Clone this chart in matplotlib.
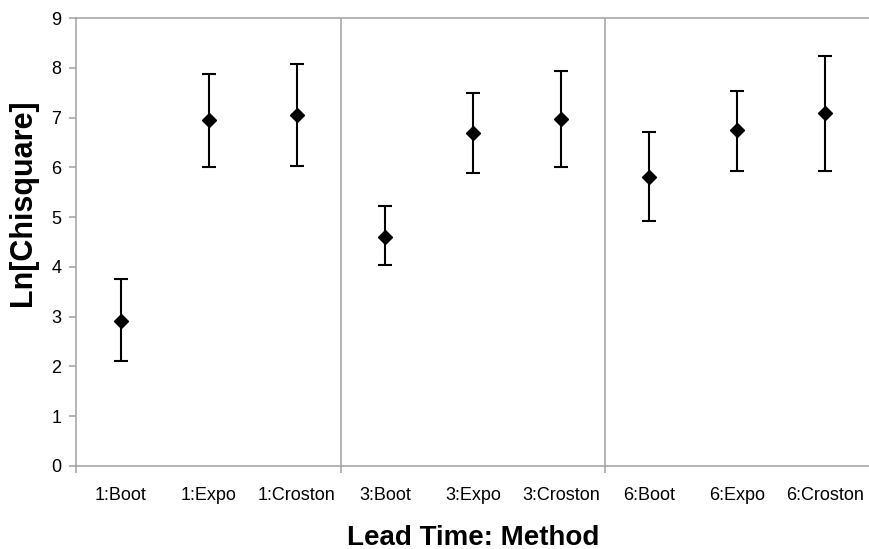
import matplotlib
matplotlib.use("Agg")
import matplotlib.pyplot as plt
import numpy as np

# Ln[Chisquare] by lead time and method, with error bars
methods = ["1:Boot", "1:Expo", "1:Croston",
           "3:Boot", "3:Expo", "3:Croston",
           "6:Boot", "6:Expo", "6:Croston"]
means = [2.92, 6.95, 7.05, 4.61, 6.68, 6.98, 5.80, 6.75, 7.09]
upper = [3.76, 7.87, 8.08, 5.22, 7.49, 7.93, 6.70, 7.54, 8.24]
lower = [2.10, 6.00, 6.03, 4.03, 5.89, 6.01, 4.92, 5.93, 5.93]
group_breaks = [2.5, 5.5]

plt.rcParams['font.family'] = ['Liberation Sans', 'DejaVu Sans']

fig = plt.figure(figsize=(8.69, 5.49), dpi=100)
ax = fig.add_axes([0.088, 0.1512, 0.9125, 0.816])

x = np.arange(len(methods))
m = np.array(means)
yerr = [m - np.array(lower), np.array(upper) - m]

grey = "#a0a0a0"
for b in group_breaks:
    ax.axvline(b, color=grey, lw=1.1, zorder=1)

ax.errorbar(x, m, yerr=yerr, fmt="D", color="black", ms=7.5,
            elinewidth=1.5, capsize=4.8, capthick=1.5, zorder=3)

ax.set_xlim(-0.5, 8.5)
ax.set_ylim(0, 9)
ax.set_yticks(range(10))
ax.set_xticks(x)
ax.set_xticklabels(methods)
ax.set_xticks([-0.5] + group_breaks, minor=True)

for s in ["left", "bottom", "top"]:
    ax.spines[s].set_color(grey)
    ax.spines[s].set_linewidth(1.1)
ax.spines["right"].set_visible(False)

ax.tick_params(axis="x", which="major", length=0, pad=15, labelsize=13)
ax.tick_params(axis="x", which="minor", length=5, color=grey, width=1.1)
ax.tick_params(axis="y", length=5, color=grey, width=1.1, pad=6, labelsize=13)

ax.set_xlabel("Lead Time: Method", fontsize=20, fontweight="bold", labelpad=15)
ax.set_ylabel("Ln[Chisquare]", fontsize=22, fontweight="bold",
              va="center", ha="center")
ax.yaxis.set_label_coords(-0.068, 0.587)

fig.savefig("out.png", dpi=100)
